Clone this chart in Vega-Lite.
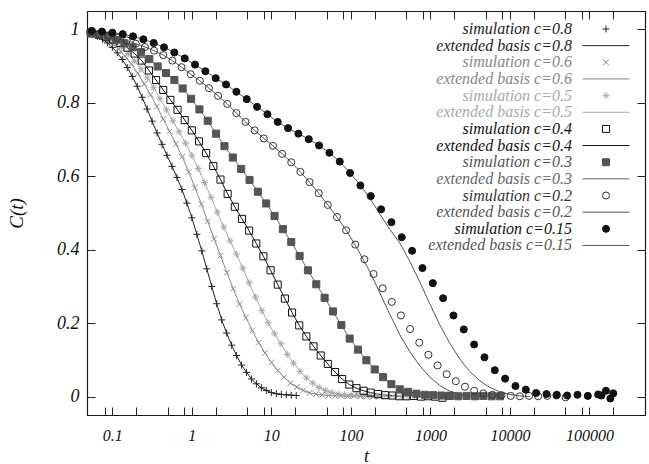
{
"$schema": "https://vega.github.io/schema/vega-lite/v6.json",
"width": 558, "height": 404,
"autosize": {"type": "none"},
"padding": {"left": 87, "top": 11, "right": 4, "bottom": 49},
"background": "white",
"config": {
  "view": {"stroke": "#1a1a1a", "strokeWidth": 1},
  "axis": {"domain": true, "domainColor": "#1a1a1a", "domainWidth": 1.2, "grid": false, "labelFont": "Liberation Serif", "labelFontStyle": "italic", "labelColor": "#111", "tickColor": "#222", "tickWidth": 1, "tickSize": -8, "titleFont": "Liberation Serif", "titleFontStyle": "italic", "titleFontWeight": "normal", "titleColor": "#111", "labelOverlap": false},
  "legend": {"labelFont": "Liberation Serif", "labelFontStyle": "italic", "labelFontSize": 16, "labelLimit": 0, "padding": 0, "rowPadding": 0.65, "symbolSize": 49, "symbolStrokeWidth": 1, "symbolOpacity": 1}
},
"datasets": {
"names": [
 {"c":0.8,"sim":"simulation c=0.8","fit":"extended basis c=0.8"},
 {"c":0.6,"sim":"simulation c=0.6","fit":"extended basis c=0.6"},
 {"c":0.5,"sim":"simulation c=0.5","fit":"extended basis c=0.5"},
 {"c":0.4,"sim":"simulation c=0.4","fit":"extended basis c=0.4"},
 {"c":0.3,"sim":"simulation c=0.3","fit":"extended basis c=0.3"},
 {"c":0.2,"sim":"simulation c=0.2","fit":"extended basis c=0.2"},
 {"c":0.15,"sim":"simulation c=0.15","fit":"extended basis c=0.15"}
],
"sim": [
{"c":0.8,"t":0.05623,"C":0.987},{"c":0.8,"t":0.06494,"C":0.981},{"c":0.8,"t":0.07499,"C":0.973},{"c":0.8,"t":0.0866,"C":0.963},{"c":0.8,"t":0.1,"C":0.951},{"c":0.8,"t":0.1155,"C":0.936},{"c":0.8,"t":0.1334,"C":0.918},{"c":0.8,"t":0.154,"C":0.896},{"c":0.8,"t":0.1778,"C":0.872},{"c":0.8,"t":0.2054,"C":0.845},{"c":0.8,"t":0.2371,"C":0.815},{"c":0.8,"t":0.2738,"C":0.783},{"c":0.8,"t":0.3162,"C":0.75},{"c":0.8,"t":0.3652,"C":0.718},{"c":0.8,"t":0.4217,"C":0.687},{"c":0.8,"t":0.487,"C":0.657},{"c":0.8,"t":0.5623,"C":0.627},{"c":0.8,"t":0.6494,"C":0.597},{"c":0.8,"t":0.7499,"C":0.564},{"c":0.8,"t":0.866,"C":0.527},{"c":0.8,"t":1,"C":0.487},{"c":0.8,"t":1.155,"C":0.442},{"c":0.8,"t":1.334,"C":0.397},{"c":0.8,"t":1.54,"C":0.348},{"c":0.8,"t":1.778,"C":0.3},{"c":0.8,"t":2.054,"C":0.253},{"c":0.8,"t":2.371,"C":0.209},{"c":0.8,"t":2.738,"C":0.173},{"c":0.8,"t":3.162,"C":0.14},{"c":0.8,"t":3.652,"C":0.112},{"c":0.8,"t":4.217,"C":0.086},{"c":0.8,"t":4.87,"C":0.066},{"c":0.8,"t":5.623,"C":0.048},{"c":0.8,"t":6.494,"C":0.035},{"c":0.8,"t":7.499,"C":0.024},{"c":0.8,"t":8.66,"C":0.017},{"c":0.8,"t":10,"C":0.011},{"c":0.8,"t":11.55,"C":0.008},{"c":0.8,"t":13.34,"C":0.006},{"c":0.8,"t":15.4,"C":0.005},{"c":0.8,"t":17.78,"C":0.004},{"c":0.8,"t":20.54,"C":0.003},
{"c":0.6,"t":0.05754,"C":0.989},{"c":0.6,"t":0.06918,"C":0.982},{"c":0.6,"t":0.08318,"C":0.972},{"c":0.6,"t":0.1,"C":0.961},{"c":0.6,"t":0.1202,"C":0.946},{"c":0.6,"t":0.1445,"C":0.927},{"c":0.6,"t":0.1738,"C":0.906},{"c":0.6,"t":0.2089,"C":0.88},{"c":0.6,"t":0.2512,"C":0.852},{"c":0.6,"t":0.302,"C":0.822},{"c":0.6,"t":0.3631,"C":0.79},{"c":0.6,"t":0.4365,"C":0.756},{"c":0.6,"t":0.5248,"C":0.722},{"c":0.6,"t":0.631,"C":0.688},{"c":0.6,"t":0.7586,"C":0.653},{"c":0.6,"t":0.912,"C":0.612},{"c":0.6,"t":1.096,"C":0.569},{"c":0.6,"t":1.318,"C":0.524},{"c":0.6,"t":1.585,"C":0.477},{"c":0.6,"t":1.905,"C":0.43},{"c":0.6,"t":2.291,"C":0.384},{"c":0.6,"t":2.754,"C":0.338},{"c":0.6,"t":3.311,"C":0.294},{"c":0.6,"t":3.981,"C":0.252},{"c":0.6,"t":4.786,"C":0.215},{"c":0.6,"t":5.754,"C":0.18},{"c":0.6,"t":6.918,"C":0.147},{"c":0.6,"t":8.318,"C":0.119},{"c":0.6,"t":10,"C":0.093},{"c":0.6,"t":12.02,"C":0.071},{"c":0.6,"t":14.45,"C":0.053},{"c":0.6,"t":17.38,"C":0.037},{"c":0.6,"t":20.89,"C":0.026},{"c":0.6,"t":25.12,"C":0.017},{"c":0.6,"t":30.2,"C":0.01},{"c":0.6,"t":36.31,"C":0.007},{"c":0.6,"t":43.65,"C":0.005},{"c":0.6,"t":52.48,"C":0.003},{"c":0.6,"t":63.1,"C":0.002},{"c":0.6,"t":75.86,"C":0.002},{"c":0.6,"t":91.2,"C":0.001},{"c":0.6,"t":109.6,"C":0.002},{"c":0.6,"t":131.8,"C":0.001},{"c":0.6,"t":158.5,"C":0.001},{"c":0.6,"t":190.5,"C":0.0},{"c":0.6,"t":229.1,"C":0.001},
{"c":0.5,"t":0.0631,"C":0.988},{"c":0.5,"t":0.07586,"C":0.981},{"c":0.5,"t":0.0912,"C":0.974},{"c":0.5,"t":0.1096,"C":0.963},{"c":0.5,"t":0.1318,"C":0.95},{"c":0.5,"t":0.1585,"C":0.934},{"c":0.5,"t":0.1905,"C":0.914},{"c":0.5,"t":0.2291,"C":0.893},{"c":0.5,"t":0.2754,"C":0.868},{"c":0.5,"t":0.3311,"C":0.841},{"c":0.5,"t":0.3981,"C":0.811},{"c":0.5,"t":0.4786,"C":0.781},{"c":0.5,"t":0.5754,"C":0.751},{"c":0.5,"t":0.6918,"C":0.721},{"c":0.5,"t":0.8318,"C":0.69},{"c":0.5,"t":1,"C":0.657},{"c":0.5,"t":1.202,"C":0.621},{"c":0.5,"t":1.445,"C":0.583},{"c":0.5,"t":1.738,"C":0.543},{"c":0.5,"t":2.089,"C":0.502},{"c":0.5,"t":2.512,"C":0.462},{"c":0.5,"t":3.02,"C":0.424},{"c":0.5,"t":3.631,"C":0.388},{"c":0.5,"t":4.365,"C":0.35},{"c":0.5,"t":5.248,"C":0.31},{"c":0.5,"t":6.31,"C":0.271},{"c":0.5,"t":7.586,"C":0.234},{"c":0.5,"t":9.12,"C":0.201},{"c":0.5,"t":10.96,"C":0.171},{"c":0.5,"t":13.18,"C":0.144},{"c":0.5,"t":15.85,"C":0.115},{"c":0.5,"t":19.05,"C":0.091},{"c":0.5,"t":22.91,"C":0.069},{"c":0.5,"t":27.54,"C":0.051},{"c":0.5,"t":33.11,"C":0.037},{"c":0.5,"t":39.81,"C":0.025},{"c":0.5,"t":47.86,"C":0.017},{"c":0.5,"t":57.54,"C":0.011},{"c":0.5,"t":69.18,"C":0.007},{"c":0.5,"t":83.18,"C":0.005},{"c":0.5,"t":100,"C":0.004},{"c":0.5,"t":120.2,"C":0.003},{"c":0.5,"t":144.5,"C":0.002},{"c":0.5,"t":173.8,"C":0.002},{"c":0.5,"t":208.9,"C":0.001},{"c":0.5,"t":251.2,"C":0.002},{"c":0.5,"t":302,"C":0.001},{"c":0.5,"t":363.1,"C":0.002},{"c":0.5,"t":436.5,"C":0.001},{"c":0.5,"t":524.8,"C":0.001},{"c":0.5,"t":631,"C":0.001},
{"c":0.4,"t":0.05495,"C":0.989},{"c":0.4,"t":0.06761,"C":0.985},{"c":0.4,"t":0.08318,"C":0.979},{"c":0.4,"t":0.1023,"C":0.972},{"c":0.4,"t":0.1259,"C":0.963},{"c":0.4,"t":0.1549,"C":0.95},{"c":0.4,"t":0.1905,"C":0.934},{"c":0.4,"t":0.2344,"C":0.915},{"c":0.4,"t":0.2884,"C":0.888},{"c":0.4,"t":0.3548,"C":0.862},{"c":0.4,"t":0.4365,"C":0.835},{"c":0.4,"t":0.537,"C":0.808},{"c":0.4,"t":0.6607,"C":0.781},{"c":0.4,"t":0.8128,"C":0.753},{"c":0.4,"t":1,"C":0.725},{"c":0.4,"t":1.23,"C":0.695},{"c":0.4,"t":1.514,"C":0.663},{"c":0.4,"t":1.862,"C":0.628},{"c":0.4,"t":2.291,"C":0.591},{"c":0.4,"t":2.818,"C":0.552},{"c":0.4,"t":3.467,"C":0.517},{"c":0.4,"t":4.266,"C":0.484},{"c":0.4,"t":5.248,"C":0.452},{"c":0.4,"t":6.457,"C":0.417},{"c":0.4,"t":7.943,"C":0.382},{"c":0.4,"t":9.772,"C":0.344},{"c":0.4,"t":12.02,"C":0.305},{"c":0.4,"t":14.79,"C":0.267},{"c":0.4,"t":18.2,"C":0.229},{"c":0.4,"t":22.39,"C":0.194},{"c":0.4,"t":27.54,"C":0.164},{"c":0.4,"t":33.88,"C":0.137},{"c":0.4,"t":41.69,"C":0.112},{"c":0.4,"t":51.29,"C":0.089},{"c":0.4,"t":63.1,"C":0.067},{"c":0.4,"t":77.62,"C":0.048},{"c":0.4,"t":95.5,"C":0.033},{"c":0.4,"t":117.5,"C":0.023},{"c":0.4,"t":144.5,"C":0.016},{"c":0.4,"t":177.8,"C":0.011},{"c":0.4,"t":218.8,"C":0.007},{"c":0.4,"t":269.2,"C":0.004},{"c":0.4,"t":331.1,"C":0.003},{"c":0.4,"t":407.4,"C":0.001},{"c":0.4,"t":501.2,"C":0.001},{"c":0.4,"t":616.6,"C":0.002},{"c":0.4,"t":758.6,"C":0.0},{"c":0.4,"t":933.3,"C":0.001},{"c":0.4,"t":1148,"C":0.0},{"c":0.4,"t":1413,"C":-0.003},{"c":0.4,"t":1738,"C":0.002},
{"c":0.3,"t":0.0537,"C":0.99},{"c":0.3,"t":0.06839,"C":0.986},{"c":0.3,"t":0.0871,"C":0.981},{"c":0.3,"t":0.1109,"C":0.971},{"c":0.3,"t":0.1413,"C":0.962},{"c":0.3,"t":0.1799,"C":0.951},{"c":0.3,"t":0.2291,"C":0.938},{"c":0.3,"t":0.2917,"C":0.919},{"c":0.3,"t":0.3715,"C":0.899},{"c":0.3,"t":0.4732,"C":0.881},{"c":0.3,"t":0.6026,"C":0.862},{"c":0.3,"t":0.7674,"C":0.839},{"c":0.3,"t":0.9772,"C":0.811},{"c":0.3,"t":1.245,"C":0.782},{"c":0.3,"t":1.585,"C":0.751},{"c":0.3,"t":2.018,"C":0.716},{"c":0.3,"t":2.57,"C":0.682},{"c":0.3,"t":3.273,"C":0.651},{"c":0.3,"t":4.169,"C":0.62},{"c":0.3,"t":5.309,"C":0.59},{"c":0.3,"t":6.761,"C":0.558},{"c":0.3,"t":8.61,"C":0.526},{"c":0.3,"t":10.96,"C":0.492},{"c":0.3,"t":13.96,"C":0.456},{"c":0.3,"t":17.78,"C":0.421},{"c":0.3,"t":22.65,"C":0.383},{"c":0.3,"t":28.84,"C":0.344},{"c":0.3,"t":36.73,"C":0.306},{"c":0.3,"t":46.77,"C":0.269},{"c":0.3,"t":59.57,"C":0.232},{"c":0.3,"t":75.86,"C":0.195},{"c":0.3,"t":96.61,"C":0.158},{"c":0.3,"t":123,"C":0.128},{"c":0.3,"t":156.7,"C":0.099},{"c":0.3,"t":199.5,"C":0.074},{"c":0.3,"t":254.1,"C":0.053},{"c":0.3,"t":323.6,"C":0.034},{"c":0.3,"t":412.1,"C":0.02},{"c":0.3,"t":524.8,"C":0.013},{"c":0.3,"t":668.3,"C":0.008},{"c":0.3,"t":851.1,"C":0.005},{"c":0.3,"t":1084,"C":0.004},{"c":0.3,"t":1380,"C":0.003},{"c":0.3,"t":1758,"C":0.002},{"c":0.3,"t":2239,"C":0.001},{"c":0.3,"t":2851,"C":0.002},{"c":0.3,"t":3631,"C":0.001},{"c":0.3,"t":4624,"C":0.002},{"c":0.3,"t":5888,"C":0.001},{"c":0.3,"t":7499,"C":0.001},
{"c":0.2,"t":0.05248,"C":0.992},{"c":0.2,"t":0.06839,"C":0.987},{"c":0.2,"t":0.08913,"C":0.983},{"c":0.2,"t":0.1161,"C":0.977},{"c":0.2,"t":0.1514,"C":0.97},{"c":0.2,"t":0.1972,"C":0.961},{"c":0.2,"t":0.257,"C":0.952},{"c":0.2,"t":0.335,"C":0.942},{"c":0.2,"t":0.4365,"C":0.93},{"c":0.2,"t":0.5689,"C":0.915},{"c":0.2,"t":0.7413,"C":0.897},{"c":0.2,"t":0.9661,"C":0.878},{"c":0.2,"t":1.259,"C":0.86},{"c":0.2,"t":1.641,"C":0.84},{"c":0.2,"t":2.138,"C":0.819},{"c":0.2,"t":2.786,"C":0.797},{"c":0.2,"t":3.631,"C":0.772},{"c":0.2,"t":4.732,"C":0.748},{"c":0.2,"t":6.166,"C":0.725},{"c":0.2,"t":8.035,"C":0.703},{"c":0.2,"t":10.47,"C":0.683},{"c":0.2,"t":13.65,"C":0.661},{"c":0.2,"t":17.78,"C":0.638},{"c":0.2,"t":23.17,"C":0.612},{"c":0.2,"t":30.2,"C":0.584},{"c":0.2,"t":39.36,"C":0.554},{"c":0.2,"t":51.29,"C":0.522},{"c":0.2,"t":66.83,"C":0.489},{"c":0.2,"t":87.1,"C":0.453},{"c":0.2,"t":113.5,"C":0.414},{"c":0.2,"t":147.9,"C":0.374},{"c":0.2,"t":192.8,"C":0.334},{"c":0.2,"t":251.2,"C":0.295},{"c":0.2,"t":327.3,"C":0.258},{"c":0.2,"t":426.6,"C":0.221},{"c":0.2,"t":555.9,"C":0.184},{"c":0.2,"t":724.4,"C":0.147},{"c":0.2,"t":944.1,"C":0.114},{"c":0.2,"t":1230,"C":0.085},{"c":0.2,"t":1603,"C":0.061},{"c":0.2,"t":2089,"C":0.042},{"c":0.2,"t":2723,"C":0.027},{"c":0.2,"t":3548,"C":0.016},{"c":0.2,"t":4624,"C":0.009},{"c":0.2,"t":6026,"C":0.005},{"c":0.2,"t":7852,"C":0.004},{"c":0.2,"t":10230,"C":0.002},{"c":0.2,"t":13340,"C":0.001},{"c":0.2,"t":17380,"C":0.002},{"c":0.2,"t":22650,"C":0.001},{"c":0.2,"t":29510,"C":0.002},{"c":0.2,"t":38460,"C":0.003},{"c":0.2,"t":50120,"C":-0.002},
{"c":0.15,"t":0.05495,"C":0.996},{"c":0.15,"t":0.07413,"C":0.994},{"c":0.15,"t":0.1,"C":0.991},{"c":0.15,"t":0.1349,"C":0.987},{"c":0.15,"t":0.182,"C":0.981},{"c":0.15,"t":0.2455,"C":0.973},{"c":0.15,"t":0.3311,"C":0.963},{"c":0.15,"t":0.4467,"C":0.951},{"c":0.15,"t":0.6026,"C":0.937},{"c":0.15,"t":0.8128,"C":0.921},{"c":0.15,"t":1.096,"C":0.904},{"c":0.15,"t":1.479,"C":0.886},{"c":0.15,"t":1.995,"C":0.867},{"c":0.15,"t":2.692,"C":0.85},{"c":0.15,"t":3.631,"C":0.83},{"c":0.15,"t":4.898,"C":0.81},{"c":0.15,"t":6.607,"C":0.789},{"c":0.15,"t":8.913,"C":0.769},{"c":0.15,"t":12.02,"C":0.748},{"c":0.15,"t":16.22,"C":0.731},{"c":0.15,"t":21.88,"C":0.716},{"c":0.15,"t":29.51,"C":0.701},{"c":0.15,"t":39.81,"C":0.684},{"c":0.15,"t":53.7,"C":0.664},{"c":0.15,"t":72.44,"C":0.64},{"c":0.15,"t":97.72,"C":0.609},{"c":0.15,"t":131.8,"C":0.575},{"c":0.15,"t":177.8,"C":0.546},{"c":0.15,"t":239.9,"C":0.51},{"c":0.15,"t":323.6,"C":0.475},{"c":0.15,"t":436.5,"C":0.434},{"c":0.15,"t":588.8,"C":0.397},{"c":0.15,"t":794.3,"C":0.35},{"c":0.15,"t":1072,"C":0.309},{"c":0.15,"t":1445,"C":0.268},{"c":0.15,"t":1950,"C":0.221},{"c":0.15,"t":2630,"C":0.183},{"c":0.15,"t":3548,"C":0.142},{"c":0.15,"t":4786,"C":0.107},{"c":0.15,"t":6457,"C":0.072},{"c":0.15,"t":8710,"C":0.049},{"c":0.15,"t":11750,"C":0.029},{"c":0.15,"t":15850,"C":0.019},{"c":0.15,"t":21380,"C":0.01},{"c":0.15,"t":28840,"C":0.007},{"c":0.15,"t":38900,"C":0.005},{"c":0.15,"t":52480,"C":0.003},{"c":0.15,"t":70790,"C":0.005},{"c":0.15,"t":95500,"C":0.002},{"c":0.15,"t":128800,"C":0.006},{"c":0.15,"t":141600,"C":0.003},{"c":0.15,"t":161400,"C":0.016},{"c":0.15,"t":183200,"C":-0.005},{"c":0.15,"t":199500,"C":0.009}
],
"fit": [
{"c":0.2,"t":0.048,"C":0.993},{"c":0.2,"t":0.05248,"C":0.992},{"c":0.2,"t":0.06839,"C":0.987},{"c":0.2,"t":0.08913,"C":0.983},{"c":0.2,"t":0.1161,"C":0.977},{"c":0.2,"t":0.1514,"C":0.97},{"c":0.2,"t":0.1972,"C":0.961},{"c":0.2,"t":0.257,"C":0.952},{"c":0.2,"t":0.335,"C":0.942},{"c":0.2,"t":0.4365,"C":0.93},{"c":0.2,"t":0.5689,"C":0.915},{"c":0.2,"t":0.7413,"C":0.897},{"c":0.2,"t":0.9661,"C":0.878},{"c":0.2,"t":1.259,"C":0.86},{"c":0.2,"t":1.641,"C":0.84},{"c":0.2,"t":2.138,"C":0.819},{"c":0.2,"t":2.786,"C":0.797},{"c":0.2,"t":3.631,"C":0.772},{"c":0.2,"t":4.732,"C":0.748},{"c":0.2,"t":6.166,"C":0.725},{"c":0.2,"t":8.035,"C":0.703},{"c":0.2,"t":10.47,"C":0.683},{"c":0.2,"t":13.65,"C":0.661},{"c":0.2,"t":17.78,"C":0.638},{"c":0.2,"t":23.17,"C":0.612},{"c":0.2,"t":30.2,"C":0.584},{"c":0.2,"t":39.36,"C":0.554},{"c":0.2,"t":51.29,"C":0.522},{"c":0.2,"t":66.83,"C":0.489},{"c":0.2,"t":87.1,"C":0.453},{"c":0.2,"t":97.05,"C":0.437},{"c":0.2,"t":129.7,"C":0.39},{"c":0.2,"t":173.4,"C":0.34},{"c":0.2,"t":231.7,"C":0.282},{"c":0.2,"t":309.7,"C":0.224},{"c":0.2,"t":413,"C":0.168},{"c":0.2,"t":552.1,"C":0.122},{"c":0.2,"t":737.9,"C":0.084},{"c":0.2,"t":986.3,"C":0.053},{"c":0.2,"t":1315,"C":0.03},{"c":0.2,"t":1758,"C":0.015},{"c":0.2,"t":2350,"C":0.007},{"c":0.2,"t":3141,"C":0.003},{"c":0.2,"t":4198,"C":0.001},{"c":0.2,"t":5598,"C":0.0},
{"c":0.15,"t":0.048,"C":0.997},{"c":0.15,"t":0.05495,"C":0.996},{"c":0.15,"t":0.07413,"C":0.994},{"c":0.15,"t":0.1,"C":0.991},{"c":0.15,"t":0.1349,"C":0.987},{"c":0.15,"t":0.182,"C":0.981},{"c":0.15,"t":0.2455,"C":0.973},{"c":0.15,"t":0.3311,"C":0.963},{"c":0.15,"t":0.4467,"C":0.951},{"c":0.15,"t":0.6026,"C":0.937},{"c":0.15,"t":0.8128,"C":0.921},{"c":0.15,"t":1.096,"C":0.904},{"c":0.15,"t":1.479,"C":0.886},{"c":0.15,"t":1.995,"C":0.867},{"c":0.15,"t":2.692,"C":0.85},{"c":0.15,"t":3.631,"C":0.83},{"c":0.15,"t":4.898,"C":0.81},{"c":0.15,"t":6.607,"C":0.789},{"c":0.15,"t":8.913,"C":0.769},{"c":0.15,"t":12.02,"C":0.748},{"c":0.15,"t":16.22,"C":0.731},{"c":0.15,"t":21.88,"C":0.716},{"c":0.15,"t":29.51,"C":0.701},{"c":0.15,"t":39.81,"C":0.684},{"c":0.15,"t":53.7,"C":0.664},{"c":0.15,"t":72.44,"C":0.64},{"c":0.15,"t":97.72,"C":0.609},{"c":0.15,"t":129.7,"C":0.578},{"c":0.15,"t":173.4,"C":0.54},{"c":0.15,"t":231.7,"C":0.497},{"c":0.15,"t":309.7,"C":0.455},{"c":0.15,"t":413,"C":0.418},{"c":0.15,"t":552.1,"C":0.368},{"c":0.15,"t":737.9,"C":0.312},{"c":0.15,"t":986.3,"C":0.252},{"c":0.15,"t":1315,"C":0.195},{"c":0.15,"t":1758,"C":0.145},{"c":0.15,"t":2350,"C":0.102},{"c":0.15,"t":3141,"C":0.068},{"c":0.15,"t":4198,"C":0.043},{"c":0.15,"t":5598,"C":0.025},{"c":0.15,"t":7482,"C":0.013},{"c":0.15,"t":10000,"C":0.006},{"c":0.15,"t":13370,"C":0.002},{"c":0.15,"t":17860,"C":0.0}
]
},
"layer": [
{
 "mark": {"type": "rule", "color": "#111", "strokeWidth": 1},
 "encoding": {"y": {"datum": 0, "type": "quantitative", "scale": {"domain": [-0.05, 1.05], "nice": false, "zero": false}, "axis": null}}
},
{
 "data": {"name": "sim"},
 "transform": [{"filter": "datum.c >= 0.3"}, {"lookup": "c", "from": {"data": {"name": "names"}, "key": "c", "fields": ["fit"]}}],
 "mark": {"type": "line", "strokeWidth": 1},
 "encoding": {
  "x": {"field": "t", "type": "quantitative", "scale": {"type": "log", "domain": [0.048, 500000], "nice": false}, "axis": null},
  "y": {"field": "C", "type": "quantitative", "scale": {"domain": [-0.05, 1.05], "nice": false, "zero": false}, "axis": null},
  "color": {"field": "fit", "type": "nominal", "scale": {"domain": ["simulation c=0.8","extended basis c=0.8","simulation c=0.6","extended basis c=0.6","simulation c=0.5","extended basis c=0.5","simulation c=0.4","extended basis c=0.4","simulation c=0.3","extended basis c=0.3","simulation c=0.2","extended basis c=0.2","simulation c=0.15","extended basis c=0.15"], "range": ["#222","#222","#888","#888","#a8a8a8","#a8a8a8","#111","#111","#555","#666","#333","#555","#111","#555"]}}
 }
},
{
 "data": {"name": "fit"},
 "transform": [{"lookup": "c", "from": {"data": {"name": "names"}, "key": "c", "fields": ["fit"]}}],
 "mark": {"type": "line", "strokeWidth": 1},
 "encoding": {
  "x": {"field": "t", "type": "quantitative", "scale": {"type": "log", "domain": [0.048, 500000], "nice": false},
        "axis": {"orient": "top", "values": [0.08,0.1,0.2,0.5,0.8,1,2,5,8,10,20,50,80,100,200,500,800,1000,2000,5000,8000,10000,20000,50000,80000,100000,200000], "labels": false, "title": null,
                 "encode": {"ticks": {"y2": {"value": {"expr": "indexof([0.1,1,10,100,1000,10000,100000], datum.value) >= 0 ? 8 : 4"}}}}}},
  "y": {"field": "C", "type": "quantitative", "scale": {"domain": [-0.05, 1.05], "nice": false, "zero": false},
        "axis": {"orient": "right", "values": [0,0.2,0.4,0.6,0.8,1], "labels": false, "title": null}},
  "color": {"field": "fit", "type": "nominal", "scale": {"domain": ["simulation c=0.8","extended basis c=0.8","simulation c=0.6","extended basis c=0.6","simulation c=0.5","extended basis c=0.5","simulation c=0.4","extended basis c=0.4","simulation c=0.3","extended basis c=0.3","simulation c=0.2","extended basis c=0.2","simulation c=0.15","extended basis c=0.15"], "range": ["#222","#222","#888","#888","#a8a8a8","#a8a8a8","#111","#111","#555","#666","#333","#555","#111","#555"]}}
 }
},
{
 "data": {"name": "sim"},
 "transform": [{"lookup": "c", "from": {"data": {"name": "names"}, "key": "c", "fields": ["sim"]}}],
 "mark": {"type": "point", "filled": false, "opacity": 1, "strokeWidth": 1, "size": 50},
 "encoding": {
  "x": {"field": "t", "type": "quantitative", "scale": {"type": "log", "domain": [0.048, 500000], "nice": false},
        "axis": {"orient": "bottom", "values": [0.08,0.1,0.2,0.5,0.8,1,2,5,8,10,20,50,80,100,200,500,800,1000,2000,5000,8000,10000,20000,50000,80000,100000,200000], "format": "~g",
                 "labelExpr": "indexof([0.1,1,10,100,1000,10000,100000], datum.value) >= 0 ? datum.label : ''",
                 "title": "t", "labelFontSize": 16, "labelPadding": 20, "titleFontSize": 18, "titlePadding": 4,
                 "encode": {"ticks": {"y2": {"value": {"expr": "indexof([0.1,1,10,100,1000,10000,100000], datum.value) >= 0 ? -8 : -4"}}}}}},
  "y": {"field": "C", "type": "quantitative", "scale": {"domain": [-0.05, 1.05], "nice": false, "zero": false},
        "axis": {"orient": "left", "values": [0,0.2,0.4,0.6,0.8,1], "format": "~g", "title": "C(t)", "labelFontSize": 18, "labelPadding": 16, "titleFontSize": 19, "titlePadding": 30}},
  "color": {"field": "sim", "type": "nominal",
   "scale": {"domain": ["simulation c=0.8","extended basis c=0.8","simulation c=0.6","extended basis c=0.6","simulation c=0.5","extended basis c=0.5","simulation c=0.4","extended basis c=0.4","simulation c=0.3","extended basis c=0.3","simulation c=0.2","extended basis c=0.2","simulation c=0.15","extended basis c=0.15"], "range": ["#222","#222","#888","#888","#a8a8a8","#a8a8a8","#111","#111","#555","#666","#333","#555","#111","#555"]},
   "legend": {"orient": "none", "legendX": 511, "legendY": 10, "title": null, "padding": 0, "rowPadding": 0.65, "labelAlign": "right", "labelOffset": -42, "labelLimit": 0, "labelFont": "Liberation Serif", "labelFontStyle": "italic", "labelFontSize": 16, "symbolSize": 49, "symbolStrokeWidth": 1, "symbolOpacity": 1,
     "labelColor": {"expr": "scale('color', datum.value)"},
     "symbolStrokeColor": {"expr": "scale('color', datum.value)"},
     "symbolFillColor": {"expr": "datum.value === 'simulation c=0.3' ? '#555' : datum.value === 'simulation c=0.15' ? '#111' : 'transparent'"}}},
  "fill": {"field": "sim", "type": "nominal", "legend": null,
   "scale": {"domain": ["simulation c=0.8","simulation c=0.6","simulation c=0.5","simulation c=0.4","simulation c=0.3","simulation c=0.2","simulation c=0.15","extended basis c=0.8","extended basis c=0.6","extended basis c=0.5","extended basis c=0.4","extended basis c=0.3","extended basis c=0.2","extended basis c=0.15"], "range": ["transparent","transparent","transparent","transparent","#555","transparent","#111","transparent","transparent","transparent","transparent","transparent","transparent","transparent"]}},
  "shape": {"field": "sim", "type": "nominal",
   "scale": {"domain": ["simulation c=0.8","extended basis c=0.8","simulation c=0.6","extended basis c=0.6","simulation c=0.5","extended basis c=0.5","simulation c=0.4","extended basis c=0.4","simulation c=0.3","extended basis c=0.3","simulation c=0.2","extended basis c=0.2","simulation c=0.15","extended basis c=0.15"],
             "range": ["M-1,0H1M0,-1V1","M-6.7,0H6.7","M-0.8,-0.8L0.8,0.8M0.8,-0.8L-0.8,0.8","M-6.7,0H6.7","M-1,0H1M0,-1V1M-0.7,-0.7L0.7,0.7M0.7,-0.7L-0.7,0.7","M-6.7,0H6.7","square","M-6.7,0H6.7","square","M-6.7,0H6.7","circle","M-6.7,0H6.7","circle","M-6.7,0H6.7"]},
   "legend": {"orient": "none", "legendX": 511, "legendY": 10, "title": null, "padding": 0, "rowPadding": 0.65, "labelAlign": "right", "labelOffset": -42, "labelLimit": 0, "labelFont": "Liberation Serif", "labelFontStyle": "italic", "labelFontSize": 16, "symbolSize": 49, "symbolStrokeWidth": 1, "symbolOpacity": 1,
     "labelColor": {"expr": "scale('color', datum.value)"},
     "symbolStrokeColor": {"expr": "scale('color', datum.value)"},
     "symbolFillColor": {"expr": "datum.value === 'simulation c=0.3' ? '#555' : datum.value === 'simulation c=0.15' ? '#111' : 'transparent'"}}}
 }
}
],
"resolve": {"axis": {"x": "independent", "y": "independent"}}
}
